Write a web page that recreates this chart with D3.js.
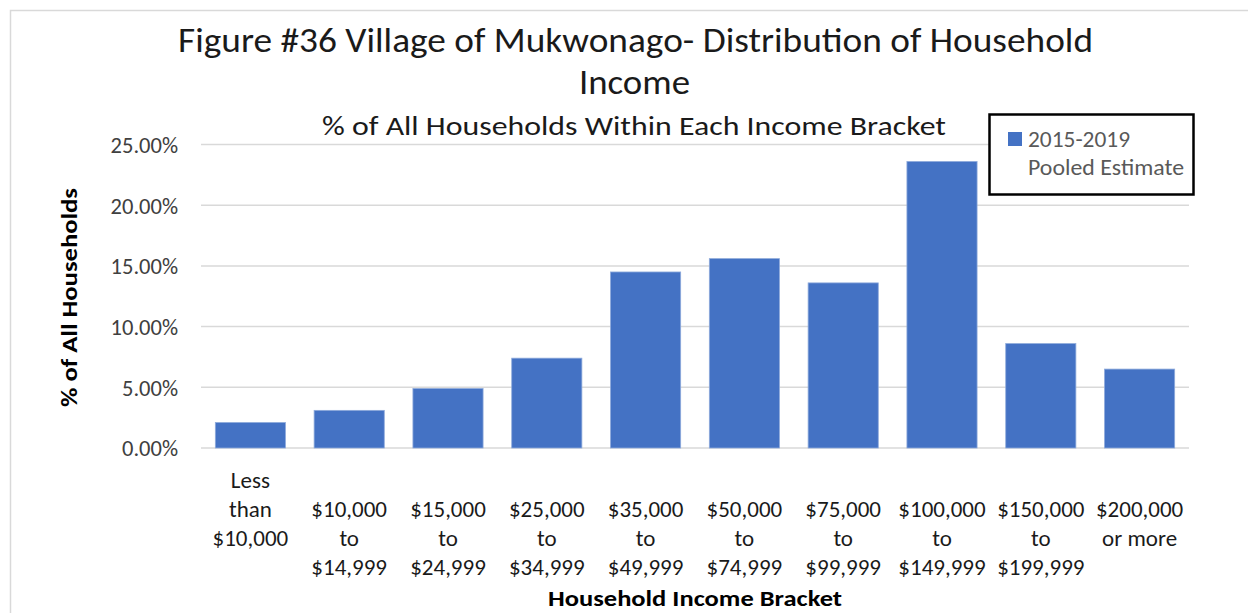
<!DOCTYPE html>
<html>
<head>
<meta charset="utf-8">
<script src="https://cdn.jsdelivr.net/npm/d3@7"></script>
<style>
  html, body { margin: 0; padding: 0; background: #fff; }
  svg { display: block; font-family: Carlito, Calibri, Lato, "Open Sans", sans-serif; }
</style>
</head>
<body>
<svg id="chart" width="1248" height="613"></svg>
<script>
// Household income distribution, Village of Mukwonago (2015-2019 pooled estimate)
const categories = [
  "Less than $10,000",
  "$10,000 to $14,999",
  "$15,000 to $24,999",
  "$25,000 to $34,999",
  "$35,000 to $49,999",
  "$50,000 to $74,999",
  "$75,000 to $99,999",
  "$100,000 to $149,999",
  "$150,000 to $199,999",
  "$200,000 or more"
];
// Wrapped category labels, one array of lines per bracket
const categoryLines = [
  ["Less", "than", "$10,000"],
  ["$10,000", "to", "$14,999"],
  ["$15,000", "to", "$24,999"],
  ["$25,000", "to", "$34,999"],
  ["$35,000", "to", "$49,999"],
  ["$50,000", "to", "$74,999"],
  ["$75,000", "to", "$99,999"],
  ["$100,000", "to", "$149,999"],
  ["$150,000", "to", "$199,999"],
  ["$200,000", "or more"]
];
const seriesName = ["2015-2019", "Pooled Estimate"];
const shareOfHouseholds = [0.021, 0.031, 0.049, 0.074, 0.145, 0.156, 0.136, 0.236, 0.086, 0.065];
const yTicks = [0, 0.05, 0.10, 0.15, 0.20, 0.25];

const titleLines = ["Figure #36 Village of Mukwonago- Distribution of Household", "Income"];
const subtitle = "% of All Households Within Each Income Bracket";
const yTitle = "% of All Households";
const xTitle = "Household Income Bracket";

const svg = d3.select("#chart");
const BLUE = "#4472C4";
const GRID = "#d9d9d9";

// stretch/shrink a text node to a given rendered width
function fit(sel, w) {
  sel.attr("textLength", w).attr("lengthAdjust", "spacingAndGlyphs");
  return sel;
}

// chart area outline
svg.append("rect")
  .attr("x", 10.5).attr("y", 10.5)
  .attr("width", 1260).attr("height", 620)
  .attr("fill", "none").attr("stroke", GRID).attr("stroke-width", 1.5);

const plot = { left: 201, right: 1189, top: 144.5, bottom: 448 };

const x = d3.scaleBand()
  .domain(categories)
  .range([plot.left, plot.right])
  .paddingInner(0.29)
  .paddingOuter(0.145);

const y = d3.scaleLinear()
  .domain([0, 0.25])
  .range([plot.bottom, plot.top]);

// horizontal gridlines
svg.append("g")
  .selectAll("line")
  .data(yTicks)
  .join("line")
  .attr("x1", plot.left).attr("x2", plot.right)
  .attr("y1", d => y(d)).attr("y2", d => y(d))
  .attr("stroke", GRID).attr("stroke-width", 1.5);

// y axis labels
const yAxis = d3.axisLeft(y).tickValues(yTicks).tickFormat(d3.format(".2%")).tickSize(0).tickPadding(0);
const yg = svg.append("g").attr("transform", `translate(178,0)`).call(yAxis);
yg.select(".domain").remove();
yg.selectAll("text")
  .attr("font-size", 22.5)
  .attr("font-family", "Carlito, Calibri, Lato, sans-serif")
  .attr("fill", "#404040")
  .attr("dy", "0.35em");

// bars
svg.append("g")
  .selectAll("rect")
  .data(shareOfHouseholds)
  .join("rect")
  .attr("x", (d, i) => x(categories[i]))
  .attr("width", x.bandwidth())
  .attr("y", d => y(d))
  .attr("height", d => y(0) - y(d))
  .attr("fill", BLUE)
  .attr("stroke", "#8eaadb")
  .attr("stroke-width", 0.8);

// category labels (wrapped)
const lineGap = 29;
const labels = svg.append("g")
  .attr("font-size", 23)
  .attr("fill", "#1a1a1a")
  .attr("text-anchor", "middle");
categoryLines.forEach((lines, i) => {
  const cx = x(categories[i]) + x.bandwidth() / 2;
  const start = lines[0] === "Less" ? 0 : 1;
  lines.forEach((ln, j) => {
    labels.append("text")
      .attr("x", cx)
      .attr("y", 488 + (start + j) * lineGap)
      .text(ln);
  });
});

// axis titles
fit(svg.append("text")
  .attr("x", 695).attr("y", 606)
  .attr("text-anchor", "middle")
  .attr("font-size", 22).attr("font-weight", "bold")
  .attr("fill", "#000")
  .text(xTitle), 294);

fit(svg.append("text")
  .attr("transform", "translate(77,297.5) rotate(-90)")
  .attr("text-anchor", "middle")
  .attr("font-size", 22).attr("font-weight", "bold")
  .attr("fill", "#000")
  .text(yTitle), 219);

// chart title and subtitle
fit(svg.append("text")
  .attr("x", 635.5).attr("y", 52)
  .attr("text-anchor", "middle")
  .attr("font-size", 34).attr("font-weight", 300)
  .attr("fill", "#1a1a1a")
  .text(titleLines[0]), 915);
fit(svg.append("text")
  .attr("x", 634.5).attr("y", 94)
  .attr("text-anchor", "middle")
  .attr("font-size", 34).attr("font-weight", 300)
  .attr("fill", "#1a1a1a")
  .text(titleLines[1]), 111);
fit(svg.append("text")
  .attr("x", 634).attr("y", 135)
  .attr("text-anchor", "middle")
  .attr("font-size", 27).attr("font-weight", 300)
  .attr("fill", "#1a1a1a")
  .text(subtitle), 624);

// legend
const lg = svg.append("g");
lg.append("rect")
  .attr("x", 989.5).attr("y", 114.5)
  .attr("width", 204).attr("height", 80)
  .attr("fill", "#fff").attr("stroke", "#000").attr("stroke-width", 2.5);
lg.append("rect")
  .attr("x", 1008).attr("y", 132)
  .attr("width", 14).attr("height", 14)
  .attr("fill", BLUE);
fit(lg.append("text")
  .attr("x", 1028).attr("y", 146.5)
  .attr("font-size", 22).attr("fill", "#595959")
  .text(seriesName[0]), 102);
fit(lg.append("text")
  .attr("x", 1028).attr("y", 175)
  .attr("font-size", 22).attr("fill", "#595959")
  .text(seriesName[1]), 156);
</script>
</body>
</html>
